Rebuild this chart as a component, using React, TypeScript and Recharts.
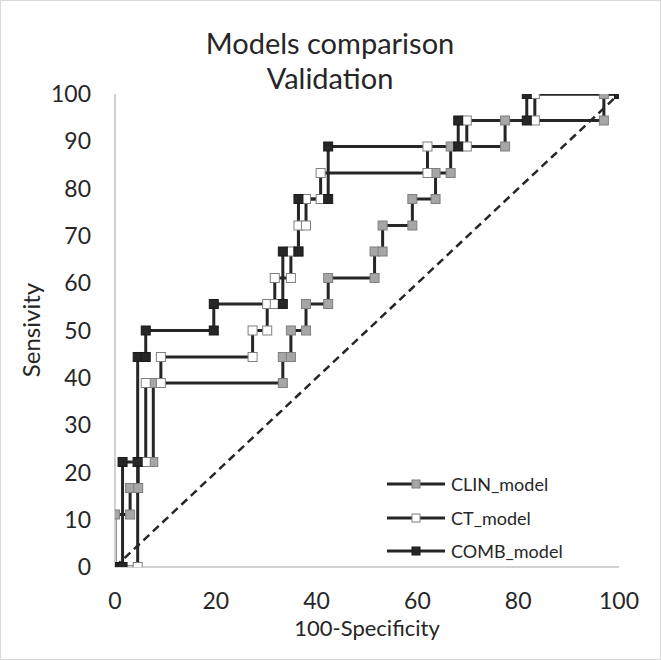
import React from 'react';
import { LineChart, Line, XAxis, YAxis } from 'recharts';

const xTicks = [0, 20, 40, 60, 80, 100];
const yTicks = [0, 10, 20, 30, 40, 50, 60, 70, 80, 90, 100];

const clinX = [0, 0, 3.0, 3.0, 4.6, 4.6, 7.6, 7.6, 33.3, 33.3, 34.9, 34.9, 37.9, 37.9, 42.3, 42.3, 51.5, 51.5, 53.1, 53.1, 59.0, 59.0, 63.6, 63.6, 66.6, 66.6, 77.4, 77.4, 97.0, 97.0, 100];
const clinY = [0, 11.1, 11.1, 16.7, 16.7, 22.2, 22.2, 38.9, 38.9, 44.4, 44.4, 50, 50, 55.6, 55.6, 61.1, 61.1, 66.7, 66.7, 72.2, 72.2, 77.8, 77.8, 83.3, 83.3, 88.9, 88.9, 94.4, 94.4, 100, 100];

const ctX = [0, 4.5, 4.5, 6.1, 6.1, 9.1, 9.1, 27.3, 27.3, 30.2, 30.2, 31.7, 31.7, 34.9, 34.9, 36.4, 36.4, 37.9, 37.9, 40.8, 40.8, 62.0, 62.0, 69.8, 69.8, 83.3, 83.3, 100];
const ctY = [0, 0, 22.2, 22.2, 38.9, 38.9, 44.4, 44.4, 50, 50, 55.6, 55.6, 61.1, 61.1, 66.7, 66.7, 72.2, 72.2, 77.8, 77.8, 83.3, 83.3, 88.9, 88.9, 94.4, 94.4, 100, 100];

const combX = [0, 1.5, 1.5, 4.5, 4.5, 6.1, 6.1, 19.6, 19.6, 33.3, 33.3, 36.4, 36.4, 42.3, 42.3, 68.1, 68.1, 81.7, 81.7, 100];
const combY = [0, 0, 22.2, 22.2, 44.4, 44.4, 50, 50, 55.6, 55.6, 66.7, 66.7, 77.8, 77.8, 88.9, 88.9, 94.4, 94.4, 100, 100];

const refX = [0, 100];
const refY = [0, 100];

const seriesNames = ['CLIN_model', 'CT_model', 'COMB_model'];

const toPoints = (xs: number[], ys: number[]) => xs.map((x, i) => ({ x, y: ys[i] }));

const FONT = 'Lato, "Open Sans", sans-serif';
const LINE = '#262626';

const styles = [
  { fill: '#a6a6a6', stroke: '#7f7f7f' },
  { fill: '#ffffff', stroke: '#7f7f7f' },
  { fill: '#262626', stroke: '#1a1a1a' },
];

const makeDot = (s: { fill: string; stroke: string }, prefix: string) => (props: any) => {
  const { cx, cy, index } = props;
  if (cx == null || cy == null) return <g key={`${prefix}-${index}`} />;
  return (
    <rect
      key={`${prefix}-${index}`}
      x={cx - 4.5}
      y={cy - 4.5}
      width={9}
      height={9}
      fill={s.fill}
      stroke={s.stroke}
      strokeWidth={1}
    />
  );
};

export default function App() {
  const data = [toPoints(clinX, clinY), toPoints(ctX, ctY), toPoints(combX, combY)];
  const legendRows = [484, 518, 551];
  return (
    <div style={{ position: 'absolute', left: 0, top: 0, width: 661, height: 660, background: '#fff' }}>
      <LineChart width={661} height={660} margin={{ top: 94, right: 42, bottom: 0, left: 0 }}>
        <XAxis
          type="number"
          dataKey="x"
          domain={[0, 100]}
          ticks={xTicks}
          allowDataOverflow
          height={93}
          tickLine={false}
          tickSize={0}
          tickMargin={26}
          axisLine={{ stroke: '#d0d0d0', strokeWidth: 2 }}
          tick={{ fill: '#262626', fontSize: 23, fontFamily: FONT }}
        />
        <YAxis
          type="number"
          dataKey="y"
          domain={[0, 100]}
          ticks={yTicks}
          allowDataOverflow
          width={115}
          tickLine={false}
          tickSize={0}
          tickMargin={24}
          axisLine={{ stroke: '#d0d0d0', strokeWidth: 2 }}
          tick={{ fill: '#262626', fontSize: 23, fontFamily: FONT }}
        />
        <Line
          data={toPoints(refX, refY)}
          dataKey="y"
          type="linear"
          stroke={LINE}
          strokeWidth={2.5}
          strokeDasharray="8 5"
          dot={false}
          activeDot={false}
          isAnimationActive={false}
          legendType="none"
        />
        {data.map((pts, i) => (
          <Line
            key={seriesNames[i]}
            name={seriesNames[i]}
            data={pts}
            dataKey="y"
            type="linear"
            stroke={LINE}
            strokeWidth={3}
            dot={makeDot(styles[i], seriesNames[i])}
            activeDot={false}
            isAnimationActive={false}
          />
        ))}
      </LineChart>
      <svg
        width={661}
        height={660}
        style={{ position: 'absolute', left: 0, top: 0, pointerEvents: 'none' }}
        fontFamily={FONT}
      >
        <rect x={0.5} y={0.5} width={660} height={659} fill="none" stroke="#d9d9d9" strokeWidth={1} />
        <text x={330} y={54} textAnchor="middle" fontSize={29} fill="#262626">Models comparison</text>
        <text x={330} y={89} textAnchor="middle" fontSize={29} fill="#262626">Validation</text>
        <text x={367} y={636} textAnchor="middle" fontSize={22} fill="#262626">100-Specificity</text>
        <text
          x={30}
          y={330}
          textAnchor="middle"
          dominantBaseline="central"
          fontSize={24}
          fill="#262626"
          transform="rotate(-90 30 330)"
        >
          Sensivity
        </text>
        {legendRows.map((y, i) => (
          <g key={seriesNames[i]}>
            <line x1={387} x2={445} y1={y} y2={y} stroke={LINE} strokeWidth={3} />
            <rect x={412} y={y - 4} width={8} height={8} fill={styles[i].fill} stroke={styles[i].stroke} />
            <text x={451} y={y + 7} fontSize={18} fill="#262626">{seriesNames[i]}</text>
          </g>
        ))}
      </svg>
    </div>
  );
}
